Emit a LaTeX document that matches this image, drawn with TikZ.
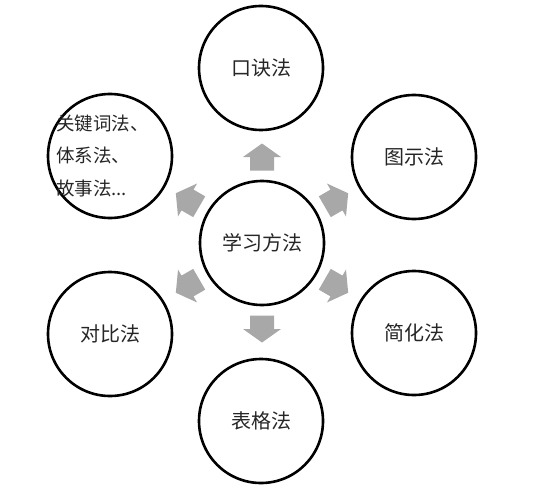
\documentclass[tikz,border=0pt]{standalone}
\usepackage{fontspec}
\setmainfont{Noto Sans CJK SC}
\usetikzlibrary{calc}
\definecolor{arrowgray}{HTML}{A8A8A8}
\definecolor{txt}{HTML}{262626}
\tikzset{
  method/.style={circle, draw=black, line width=2.6pt, minimum size=124pt, inner sep=0pt,
    text=txt, font=\fontsize{20}{24}\selectfont},
  blockarrow/.style={fill=arrowgray, draw=none}
}
\newcommand{\blockarr}[2]{%
  \fill[blockarrow, shift={($(#1)+(#2:86pt)$)}, rotate=#2]
    (-13.5pt,-12pt) -- (0pt,-12pt) -- (0pt,-19pt) -- (13.5pt,0pt) -- (0pt,19pt) -- (0pt,12pt) -- (-13.5pt,12pt) -- cycle;}
\begin{document}
\begin{tikzpicture}[x=1pt,y=1pt]
\fill[white] (0,0) rectangle (534,488);
\useasboundingbox (0,0) rectangle (534,488);
\node[method] (c) at (262,245) {学习方法};
\node[method] (top) at (261,420) {口诀法};
\node[method] (tl) at (110,332) {};
\node[method] (tr) at (414,331) {图示法};
\node[method] (br) at (414,155) {简化法};
\node[method] (bl) at (110,154) {对比法};
\node[method] (bot) at (261,67) {表格法};
\node[anchor=west, align=left, inner sep=0pt, text=txt, font=\fontsize{18.5}{32.5}\selectfont] (tltext) at (56,332.5) {关键词法、\\体系法、\\故事法...};
\blockarr{c}{90}
\blockarr{c}{-90}
\blockarr{c}{150}
\blockarr{c}{30}
\blockarr{c}{-150}
\blockarr{c}{-30}
\end{tikzpicture}
\end{document}
